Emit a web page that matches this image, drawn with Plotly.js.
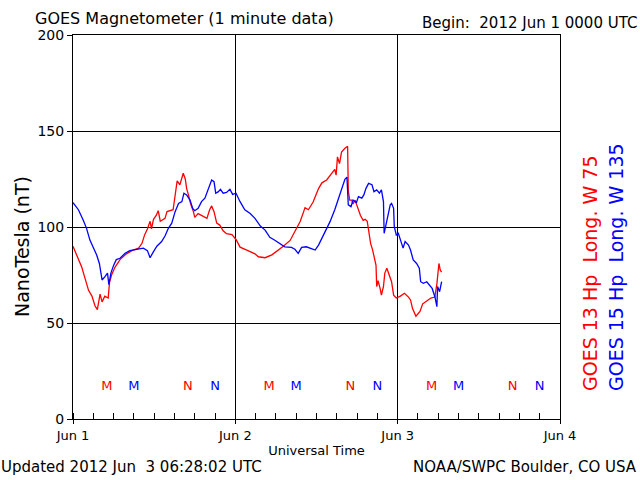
<!DOCTYPE html>
<html>
<head>
<meta charset="utf-8">
<script src="https://cdn.plot.ly/plotly-3.0.1.min.js"></script>
<style>html,body{margin:0;padding:0;background:#fff;}#chart{width:640px;height:480px;}</style>
</head>
<body>
<div id="chart"></div>
<script>
// Hours since 2012 Jun 1 00:00 UTC
const goes13Hours = [0, 0.5, 1.3, 1.8, 2.3, 2.8, 3.25, 3.6, 4.0, 4.3, 4.7, 5.2, 5.4, 5.7, 6.2, 6.95, 7.9, 8.9, 9.7, 10.2,
  10.6, 11.0, 11.4, 11.6, 11.9, 12.3, 12.6, 12.9, 13.6, 13.9, 14.8, 15.2, 15.4, 15.8, 16.3, 16.6, 16.8, 17.05, 17.4, 17.8,
  18.0, 18.5, 19.0, 19.8, 20.2, 20.5, 20.85, 21.25, 21.7, 22.2, 22.7, 23.5, 24.1, 24.7, 25.7, 26.9, 27.4, 28.4, 29.4, 30.4,
  31.1, 32.1, 32.8, 33.6, 34.1, 34.3, 34.8, 35.5, 36.3, 36.8, 37.5, 38.0, 38.7, 38.9, 39.1, 39.4, 39.7, 40.2, 40.6, 40.7,
  40.9, 41.2, 41.4, 41.7, 42.2, 42.5, 42.9, 43.2, 43.5, 43.8, 44.0, 44.3, 44.5, 44.8, 44.9, 45.1, 45.4, 45.6, 45.9, 46.1,
  46.4, 46.8, 47.1, 47.4, 47.8, 48.4, 49.0, 49.6, 49.9, 50.2, 50.7, 51.3, 51.7, 52.3, 52.9, 53.5, 53.8, 54.1, 54.3, 54.5];
const goes13Hp = [90, 86, 79, 73, 67, 64, 59, 57, 65, 61, 64, 63, 71, 75, 79, 83, 86, 88, 89, 91.5,
  96, 99, 103, 99, 104, 106, 108.5, 103, 104.5, 108, 109, 119, 124, 122, 128, 125, 120, 117, 112, 108,
  105, 107, 106, 104.5, 109, 111, 108, 102, 101, 98, 96.5, 96, 93.5, 89.5, 88, 86, 84.5, 84, 85.5, 88,
  90, 93, 98, 103, 108, 110, 109, 113, 120, 123, 124.5, 127, 130, 127, 136.5, 133, 139, 141, 142, 119,
  114, 114, 112, 114, 109, 106, 103.5, 104, 103, 97, 91.5, 88, 84.5, 80, 69, 72, 68, 64.5, 69, 76,
  78.5, 75, 71.5, 64.5, 63, 64, 65.5, 63.5, 62, 57.5, 53.5, 56, 60, 61.5, 63, 63.5, 70.5, 81, 77.5, 76.5];

const goes15Hours = [0, 0.8, 1.5, 2.0, 2.5, 3.1, 3.5, 3.9, 4.1, 4.3, 4.7, 5.1, 5.3, 5.6, 6.0, 6.4, 6.95, 7.7, 8.4, 9.4,
  10.4, 11.0, 11.4, 11.9, 12.4, 13.1, 13.6, 14.1, 14.6, 15.1, 15.6, 16.1, 16.4, 16.8, 17.3, 17.7, 18.0, 18.5, 19.0, 19.5,
  20.0, 20.5, 20.85, 21.1, 21.5, 21.8, 22.2, 22.7, 23.2, 23.6, 24.1, 24.7, 25.4, 26.2, 26.9, 27.7, 28.4, 29.1, 29.9, 30.7,
  31.3, 32.3, 32.8, 33.3, 33.8, 34.5, 35.1, 35.8, 36.3, 36.8, 37.4, 38.0, 38.7, 39.2, 39.7, 40.2, 40.5, 40.7, 41.1, 41.4,
  41.9, 42.2, 42.7, 43.0, 43.3, 43.7, 44.2, 44.5, 44.9, 45.3, 45.6, 45.9, 46.0, 46.2, 46.5, 46.9, 47.1, 47.4, 47.5, 47.8,
  48.1, 48.4, 48.8, 49.1, 49.6, 49.9, 50.3, 50.8, 51.2, 51.4, 51.8, 52.3, 52.7, 53.1, 53.5, 53.8, 53.9, 54.2, 54.5];
const goes15Hp = [112.7, 109, 103.6, 99.3, 93.2, 89, 85.4, 81, 76, 72.4, 74, 76, 70, 76, 80, 83, 83.7, 86.3, 87.7, 88.4,
  89, 87.7, 84, 87.2, 90, 92.4, 95.3, 99.3, 102, 108, 112.3, 113.2, 117.6, 116.7, 114, 109.7, 108.5, 109.7, 113.2, 115,
  119.3, 124.5, 123.6, 117.6, 118.4, 119.6, 117.6, 118, 119.6, 117, 117.6, 113.2, 109, 107, 104.5, 100.5, 98.4, 94.6, 93, 91,
  89.7, 89.4, 88.4, 86.3, 89.4, 89.7, 89, 88, 90.6, 94, 98.4, 102.8, 109, 114, 119.3, 124.8, 126, 111.5, 110.6, 114,
  112.7, 115.8, 115, 116.7, 120, 122.7, 122, 118.4, 119.3, 117.6, 119.3, 113.2, 96.7, 100.2, 106.2, 111.5, 112.3, 109.7, 100.2, 95.8,
  96.7, 93.2, 89, 92.4, 90.6, 88, 82.8, 81, 78.5, 71.5, 70.7, 71.5, 69.8, 68, 63.7, 58.5, 69, 66.3, 71.5];

// Local midnight (M) and noon (N) marker hours
const goes13Midnight = [5, 29, 53];
const goes13Noon = [17, 41, 65];
const goes15Midnight = [9, 33, 57];
const goes15Noon = [21, 45, 69];
const markerLevel = 17;

const xTickVals = [0, 24, 48, 72];
const xTickText = ['Jun 1', 'Jun 2', 'Jun 3', 'Jun 4'];
const yTickVals = [0, 50, 100, 150, 200];

const FONT = 'DejaVu Sans, Liberation Sans, sans-serif';
const RED = '#ff0000';
const BLUE = '#0000ff';

function markerTrace(hours, label, color) {
  return {
    x: hours, y: hours.map(() => markerLevel), mode: 'text',
    text: hours.map(() => label), textposition: 'middle center',
    textfont: {family: FONT, size: 13, color: color},
    hoverinfo: 'skip', showlegend: false, cliponaxis: false
  };
}

const data = [
  {x: goes13Hours, y: goes13Hp, mode: 'lines', line: {color: RED, width: 1.3}, showlegend: false},
  {x: goes15Hours, y: goes15Hp, mode: 'lines', line: {color: BLUE, width: 1.3}, showlegend: false},
  markerTrace(goes13Midnight, 'M', RED),
  markerTrace(goes15Midnight, 'M', BLUE),
  markerTrace(goes13Noon, 'N', RED),
  markerTrace(goes15Noon, 'N', BLUE)
];

const px = v => (v - 73) / 487;
const py = v => (419 - v) / 384;

const layout = {
  width: 640, height: 480,
  margin: {l: 73, r: 80, t: 35, b: 61, pad: 0},
  paper_bgcolor: '#fff', plot_bgcolor: '#fff',
  font: {family: FONT, color: '#000', size: 13},
  showlegend: false,
  xaxis: {
    range: [0, 72], tickvals: xTickVals, ticktext: xTickText,
    showgrid: true, gridcolor: '#000', gridwidth: 1,
    zeroline: false, showline: true, linecolor: '#000', linewidth: 1, mirror: true,
    ticks: 'outside', ticklen: 4, tickcolor: '#000',
    minor: {dtick: 3, tick0: 0, ticks: 'inside', ticklen: 6, tickcolor: '#000', showgrid: false},
    tickfont: {family: FONT, size: 13},
    title: {text: 'Universal Time', font: {family: FONT, size: 13}, standoff: 4},
    fixedrange: true
  },
  yaxis: {
    range: [0, 200], tickvals: yTickVals,
    showgrid: true, gridcolor: '#000', gridwidth: 1,
    zeroline: false, showline: true, linecolor: '#000', linewidth: 1, mirror: true,
    ticks: 'outside', ticklen: 5, tickcolor: '#000',
    tickfont: {family: FONT, size: 14},
    fixedrange: true
  },
  annotations: [
    {xref: 'paper', yref: 'paper', x: px(33), y: py(18), xanchor: 'left', yanchor: 'middle',
     text: 'GOES Magnetometer (1 minute data)', showarrow: false, font: {family: FONT, size: 16}},
    {xref: 'paper', yref: 'paper', x: px(639), y: py(23), xanchor: 'right', yanchor: 'middle',
     text: 'Begin:  2012 Jun 1 0000 UTC', showarrow: false, font: {family: FONT, size: 15}},
    {xref: 'paper', yref: 'paper', x: px(-1), y: py(467), xanchor: 'left', yanchor: 'middle',
     text: 'Updated 2012 Jun  3 06:28:02 UTC', showarrow: false, font: {family: FONT, size: 15}},
    {xref: 'paper', yref: 'paper', x: px(639), y: py(467), xanchor: 'right', yanchor: 'middle',
     text: 'NOAA/SWPC Boulder, CO USA', showarrow: false, font: {family: FONT, size: 15}},
    {xref: 'paper', yref: 'paper', x: px(22), y: py(247), xanchor: 'center', yanchor: 'middle',
     textangle: -90, text: 'NanoTesla (nT)', showarrow: false, font: {family: FONT, size: 19}},
    {xref: 'paper', yref: 'paper', x: px(590), y: py(393), xanchor: 'center', yanchor: 'bottom',
     textangle: -90, text: 'GOES 13 Hp  Long. W 75', showarrow: false, font: {family: FONT, size: 19, color: RED}},
    {xref: 'paper', yref: 'paper', x: px(616), y: py(393), xanchor: 'center', yanchor: 'bottom',
     textangle: -90, text: 'GOES 15 Hp  Long. W 135', showarrow: false, font: {family: FONT, size: 19, color: BLUE}}
  ]
};

Plotly.newPlot('chart', data, layout, {staticPlot: true, displayModeBar: false});
</script>
</body>
</html>
